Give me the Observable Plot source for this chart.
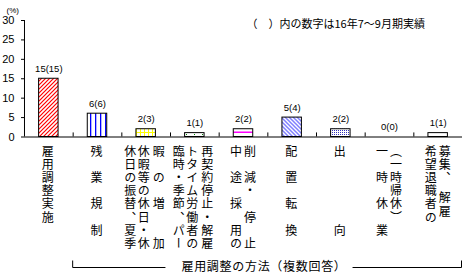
<!DOCTYPE html>
<html><head><meta charset="utf-8">
<script src="https://cdn.jsdelivr.net/npm/d3@7"></script>
<script src="https://cdn.jsdelivr.net/npm/@observablehq/plot@0.6"></script>
<style>body{margin:0;background:#fff;}</style>
</head><body><div id="chart"></div>
<script>
const categories = ["雇用調整実施","残業規制","休日の振替、夏季休暇等の休日・休暇の増加","臨時・季節、パートタイム労働者の再契約停止・解雇","中途採用の削減・停止","配置転換","出向","一時休業（一時帰休）","希望退職者の募集、解雇"];
const values = [15,6,2,1,2,5,2,0,1];
const previous = [15,6,3,1,2,4,2,0,1];
const patterns = ["p-red","p-blue","p-yellow","p-green","p-magenta","p-lavender","p-dots","p-white","p-white"];
const labelColumns = [
  ["雇用調整実施"],
  ["残　業　規　制"],
  ["休日の振替、夏季","休暇等の休日・休","暇　の　増　　加"],
  ["臨時・季節、パー","トタイム労働者の","再契約停止・解雇"],
  ["中　途　採　用の","削　減・　停　止"],
  ["配　置　転　換"],
  ["出　　　　　向"],
  ["一　時　休　業","（一時帰休）"],
  ["希望退職者の","募集、　解雇"]
];
const yTicks = [0,5,10,15,20,25,30];
const note = "（　）内の数字は16年7～9月期実績";
const axisTitle = "雇用調整の方法（複数回答）";
const unitLabel = "(%)";

const W = 463, H = 278, mL = 24, mR = 1, mT = 20, mB = 141.5;
const step = (W - mL - mR) / categories.length;
const jp = "'Noto Sans CJK JP', sans-serif";

const rows = categories.map((c, i) => ({cat: c, value: values[i], label: `${values[i]}(${previous[i]})`, fill: `url(#${patterns[i]})`, cols: labelColumns[i]}));

const colOffsets = {1: [-1], 2: [-7.5, 6.5], 3: [-16, -2.5, 12.5]};
const labelMarks = [];
for (const n of [1, 2, 3]) {
  const sub = rows.filter(d => d.cols.length === n);
  if (!sub.length) continue;
  for (let k = 0; k < n; k++) {
    labelMarks.push(Plot.text(sub, {x: "cat", text: d => d.cols[k], frameAnchor: "bottom", textAnchor: "start", lineAnchor: "bottom", dx: colOffsets[n][k], dy: 8.5, fontSize: 12, fontFamily: "'Noto Sans CJK JP', vlabel, sans-serif", ariaDescription: "vertical-label"}));
  }
}

const plot = Plot.plot({
  width: W, height: H, marginLeft: mL, marginRight: mR, marginTop: mT, marginBottom: mB,
  style: {fontFamily: "'Liberation Sans', Arial, sans-serif", fontSize: "11px", background: "white", color: "black", overflow: "visible"},
  x: {axis: null, domain: categories, paddingInner: 0.6, paddingOuter: 0.3, round: false},
  y: {domain: [0, 30], ticks: yTicks, tickSize: 3, tickPadding: 7, label: null},
  color: {type: "identity"},
  marks: [
    Plot.barY(rows, {x: "cat", y: "value", fill: "fill", stroke: "black", strokeWidth: 1}),
    Plot.ruleY([0], {stroke: "black"}),
    Plot.ruleX([categories[0]], {dx: -step / 2, stroke: "black"}),
    Plot.ruleX(categories.slice(1), {dx: -step / 2, y1: 0, y2: 1.05, stroke: "black"}),
    Plot.text(rows, {x: "cat", y: "value", text: "label", dy: -10, fontSize: 9.5}),
    Plot.text([unitLabel], {frameAnchor: "top-left", dx: -18, dy: -13, fontSize: 8}),
    Plot.text([note], {frameAnchor: "top-left", dx: 222, textAnchor: "start", fontSize: 11, fontFamily: jp}),
    Plot.text([axisTitle], {frameAnchor: "bottom", dx: 20.5, dy: 133.5, fontSize: 12, fontFamily: "'Noto Sans CJK JP', atitle, sans-serif", ariaDescription: "axis-title"}),
    ...labelMarks
  ]
});
document.getElementById("chart").appendChild(plot);

const svg = plot.tagName.toLowerCase() === "svg" ? plot : plot.querySelector("svg");
const vtexts = [...svg.querySelectorAll('g[font-family*="vlabel"] text, g[aria-description="vertical-label"] text')];
vtexts.forEach(t => {
  t.style.writingMode = "vertical-rl";
  t.style.letterSpacing = "1.1px";
});

// patterns
const defs = d3.select(svg).insert("defs", ":first-child");
function pat(id, w, h, draw) {
  const p = defs.append("pattern").attr("id", id).attr("patternUnits", "userSpaceOnUse").attr("width", w).attr("height", h);
  p.append("rect").attr("width", w).attr("height", h).attr("fill", "white");
  draw(p);
}
pat("p-red", 4, 4, p => p.append("path").attr("d", "M-1,1L1,-1M0,4L4,0M3,5L5,3").attr("stroke", "#ff0000").attr("stroke-width", 1.2));
pat("p-blue", 5, 5, p => p.append("rect").attr("x", 0).attr("y", 0).attr("width", 1.3).attr("height", 5).attr("fill", "#0000ff"));
pat("p-yellow", 4, 4, p => { p.append("rect").attr("x", 0).attr("y", 0).attr("width", 1).attr("height", 4).attr("fill", "#ffff00"); p.append("rect").attr("x", 0).attr("y", 0).attr("width", 4).attr("height", 1).attr("fill", "#ffff00"); });
pat("p-green", 8, 4, p => p.append("rect").attr("x", 2).attr("y", 2).attr("width", 1).attr("height", 1).attr("fill", "#008000"));
pat("p-magenta", 4, 8, p => p.append("rect").attr("x", 0).attr("y", 3.5).attr("width", 4).attr("height", 1.5).attr("fill", "#ff00ff"));
pat("p-lavender", 4, 4, p => p.append("path").attr("d", "M-1,3L1,5M0,0L4,4M3,-1L5,1").attr("stroke", "#8080ff").attr("stroke-width", 1.5));
pat("p-dots", 2, 2, p => p.append("rect").attr("x", 0).attr("y", 0).attr("width", 1).attr("height", 1).attr("fill", "#3333bb"));
pat("p-white", 4, 4, p => {});

// bracket under the category labels
const tEl = svg.querySelector('g[font-family*="atitle"] text, g[aria-description="axis-title"] text');
if (tEl) tEl.style.letterSpacing = "0.7px";
const xs = plot.scale("x");
const x0 = xs.range[0], x1 = xs.range[1];
const leftEdge = x0 + (x1 - x0) / categories.length;
const rightEdge = x1;
const sr = svg.getBoundingClientRect();
let tl = 180, trr = 347;
if (tEl) {
  const tr = tEl.getBoundingClientRect();
  tl = tr.left - sr.left; trr = tr.right - sr.left;
}
const by = 267.5, bt = 260.5;
const g = d3.select(svg).append("g").attr("stroke", "black").attr("fill", "none").attr("stroke-width", 1);
g.append("path").attr("d", `M${leftEdge},${bt}V${by}H${tl - 16}`);
g.append("path").attr("d", `M${trr + 6},${by}H${rightEdge - 0.5}V${bt}`);
</script>
</body></html>
